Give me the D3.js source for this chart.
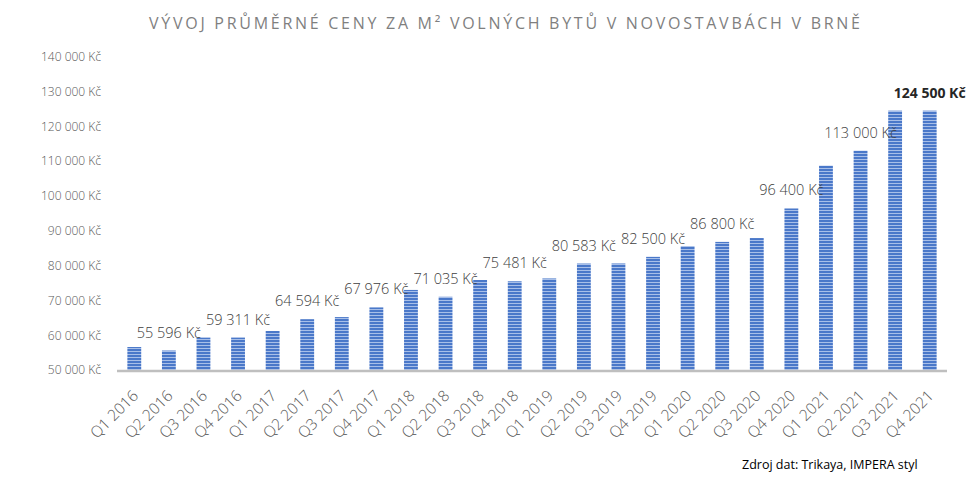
<!DOCTYPE html>
<html>
<head>
<meta charset="utf-8">
<script src="https://cdn.jsdelivr.net/npm/d3@7"></script>
<style>
  body { margin: 0; background: #fff; }
  text { font-family: "Open Sans", sans-serif; }
</style>
</head>
<body>
<svg id="chart" width="974" height="480"></svg>
<script>
// quarters on the x axis
const quarters = [
    "Q1 2016", "Q2 2016", "Q3 2016", "Q4 2016",
    "Q1 2017", "Q2 2017", "Q3 2017", "Q4 2017",
    "Q1 2018", "Q2 2018", "Q3 2018", "Q4 2018",
    "Q1 2019", "Q2 2019", "Q3 2019", "Q4 2019",
    "Q1 2020", "Q2 2020", "Q3 2020", "Q4 2020",
    "Q1 2021", "Q2 2021", "Q3 2021", "Q4 2021"
];

// average price per m2 (Kč)
const prices = [
    56600, 55596, 59300, 59311,
    61200, 64594, 65200, 67976,
    73000, 71035, 75850, 75481,
    76300, 80583, 80600, 82500,
    85600, 86800, 87900, 96400,
    108700, 113000, 124500, 124500
];

// which quarters carry a data label, and which one is bold
const labelledQuarters = [
    "Q2 2016", "Q4 2016", "Q2 2017", "Q4 2017", "Q2 2018", "Q4 2018",
    "Q2 2019", "Q4 2019", "Q2 2020", "Q4 2020", "Q2 2021", "Q4 2021"
];
const boldQuarter = "Q4 2021";

const yTicks = [50000, 60000, 70000, 80000, 90000, 100000, 110000, 120000, 130000, 140000];

const title = "VÝVOJ PRŮMĚRNÉ CENY ZA M² VOLNÝCH BYTŮ V NOVOSTAVBÁCH V BRNĚ";
const source = "Zdroj dat: Trikaya, IMPERA styl";

const svg = d3.select("#chart");
const plotLeft = 117, plotRight = 947, plotTop = 56.7, plotBottom = 370;

const czk = d3.formatLocale({
    decimal: ",", thousands: "\u00a0", grouping: [3], currency: ["", "\u00a0Kč"]
}).format("$,.0f");

const x = d3.scaleBand()
    .domain(quarters)
    .range([plotLeft, plotRight])
    .paddingInner(0.6)
    .paddingOuter(0.3);

const y = d3.scaleLinear()
    .domain([50000, 140000])
    .range([plotBottom, plotTop]);

// striped fill like the original
const defs = svg.append("defs");
const pat = defs.append("pattern")
    .attr("id", "stripes")
    .attr("patternUnits", "userSpaceOnUse")
    .attr("width", 6)
    .attr("height", 3);
pat.append("rect").attr("width", 6).attr("height", 3).attr("fill", "#4a78c9");
pat.append("rect").attr("width", 6).attr("height", 1).attr("fill", "#a8bfe8");

// title
svg.append("text")
    .attr("x", 149)
    .attr("y", 29)
    .attr("textLength", 711)
    .attr("lengthAdjust", "spacing")
    .style("font-size", "16px")
    .style("fill", "#7f7f7f")
    .text(title);

// y axis
const yAxis = svg.append("g")
    .attr("transform", `translate(${plotLeft},0)`)
    .call(d3.axisLeft(y).tickValues(yTicks).tickSize(0).tickPadding(16).tickFormat(czk));
yAxis.select(".domain").remove();
yAxis.selectAll("text")
    .style("font-family", "'Open Sans', sans-serif")
    .style("font-size", "12px")
    .style("font-weight", 300)
    .style("fill", "#595959");

// bars
const data = quarters.map((q, i) => ({ q, v: prices[i] }));

svg.append("g")
    .selectAll("rect")
    .data(data)
    .join("rect")
    .attr("x", d => x(d.q))
    .attr("y", d => y(d.v))
    .attr("width", x.bandwidth())
    .attr("height", d => y(50000) - y(d.v))
    .attr("fill", "url(#stripes)");

// x axis line
svg.append("line")
    .attr("x1", plotLeft).attr("x2", plotRight)
    .attr("y1", plotBottom + 1).attr("y2", plotBottom + 1)
    .attr("stroke", "#bfbfbf")
    .attr("stroke-width", 2.5);

// x labels, rotated
svg.append("g")
    .selectAll("text")
    .data(quarters)
    .join("text")
    .attr("transform", d => `translate(${x(d) + x.bandwidth() / 2 + 1},${plotBottom + 23}) rotate(-45)`)
    .attr("text-anchor", "end")
    .attr("dy", "0.35em")
    .style("font-size", "15.5px")
    .style("font-weight", 300)
    .style("fill", "#595959")
    .text(d => d);

// data labels
svg.append("g")
    .selectAll("text")
    .data(data.filter(d => labelledQuarters.includes(d.q)))
    .join("text")
    .attr("x", d => x(d.q) + x.bandwidth() / 2)
    .attr("y", d => y(d.v) - 13)
    .attr("text-anchor", "middle")
    .style("font-size", d => d.q === boldQuarter ? "14px" : "14.5px")
    .style("font-weight", d => d.q === boldQuarter ? "bold" : 300)
    .style("fill", d => d.q === boldQuarter ? "#262626" : "#404040")
    .text(d => czk(d.v));

// source note
svg.append("text")
    .attr("x", 742)
    .attr("y", 469)
    .style("font-size", "12.5px")
    .style("fill", "#000")
    .text(source);
</script>
</body>
</html>
